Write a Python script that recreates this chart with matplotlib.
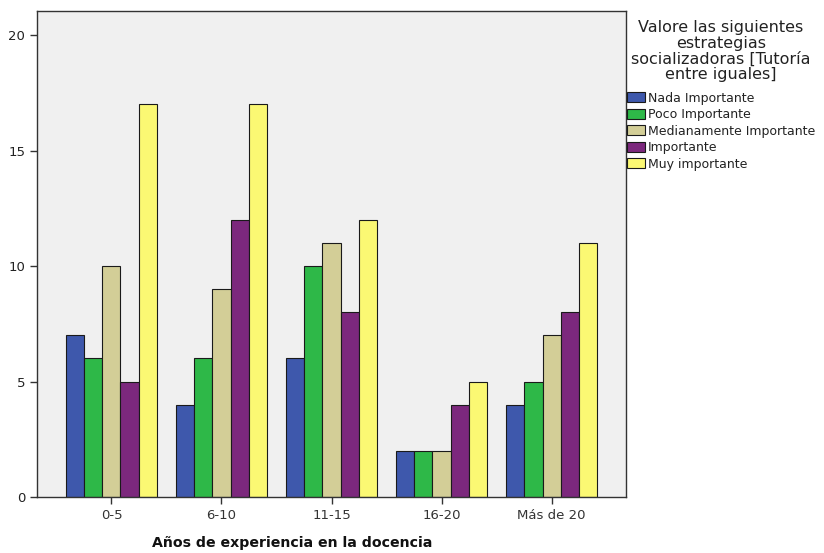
import numpy as np
import matplotlib
matplotlib.use("Agg")
import matplotlib.pyplot as plt

# datos
categorias = ["0-5", "6-10", "11-15", "16-20", "Más de 20"]
nada_importante = [7, 4, 6, 2, 4]
poco_importante = [6, 6, 10, 2, 5]
medianamente = [10, 9, 11, 2, 7]
importante = [5, 12, 8, 4, 8]
muy_importante = [17, 17, 12, 5, 11]

series = [nada_importante, poco_importante, medianamente, importante, muy_importante]
etiquetas = ["Nada Importante", "Poco Importante", "Medianamente Importante",
             "Importante", "Muy importante"]
colores = ["#3E58AC", "#2EB848", "#D3CE97", "#7C287D", "#FBF873"]


def grafico(nombre):
    fig = plt.figure(figsize=(8.24, 5.53), dpi=100)
    ax = fig.add_axes([37 / 824, 1 - 497 / 553, (626 - 37) / 824, (497 - 11) / 553])
    ax.set_facecolor("#F0F0F0")

    x = np.arange(len(categorias))
    ancho = 0.164
    barras = []
    for i, (valores, color) in enumerate(zip(series, colores)):
        b = ax.bar(x + (i - 2) * ancho, valores, ancho, color=color,
                   edgecolor="#1a1a1a", linewidth=0.8)
        barras.append(b)

    ax.set_xlim(-0.677, 4.677)
    ax.set_ylim(0, 21.04)
    ax.set_yticks([0, 5, 10, 15, 20])
    ax.set_xticks(x)
    ax.set_xticklabels(categorias, fontsize=9.5, color="#222222")
    ax.tick_params(axis="y", labelsize=9.5, colors="#333333", length=5, width=1)
    ax.tick_params(axis="x", length=5, width=1, colors="#333333")
    for t in ax.get_yticklabels():
        t.set_color("#222222")
    for s in ax.spines.values():
        s.set_color("#333333")
        s.set_linewidth(1)

    fig.text(292 / 824, 1 - 543 / 553, "Años de experiencia en la docencia",
             ha="center", va="center", fontsize=10.2, fontweight="bold", color="#111111")

    ley = fig.legend(barras, etiquetas,
                     title="Valore las siguientes\nestrategias\nsocializadoras [Tutoría\nentre iguales]",
                     loc="upper left", bbox_to_anchor=(627 / 824, 1 - 20 / 553),
                     frameon=False, fontsize=9, title_fontsize=11.5,
                     handlelength=1.4, handleheight=0.85, handletextpad=0.25,
                     labelspacing=0.28, borderpad=0, borderaxespad=0)
    ley.get_title().set_multialignment("center")
    ley.get_title().set_linespacing(1.05)
    ley.get_title().set_color("#222222")
    ley._legend_box.sep = 7  # mas espacio entre titulo y entradas
    for t in ley.get_texts():
        t.set_color("#222222")

    fig.savefig(nombre, dpi=100)


grafico("out.png")
